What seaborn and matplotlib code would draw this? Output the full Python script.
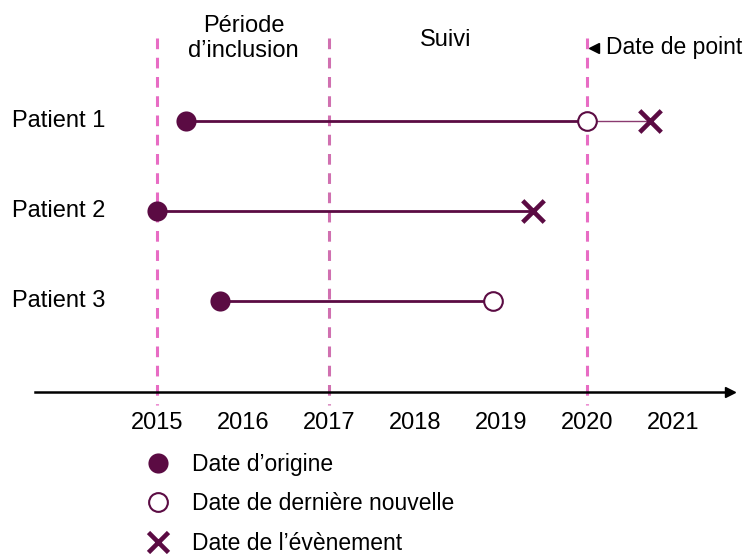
import matplotlib
matplotlib.use("Agg")
import matplotlib.pyplot as plt
from matplotlib.lines import Line2D
import seaborn as sns
import pandas as pd

# data
patients = ["Patient 1", "Patient 2", "Patient 3"]
origin_dates = [2015.33, 2015.0, 2015.73]
last_news_dates = [2020.0, None, 2018.9]
event_dates = [2020.73, 2019.37, None]
period_lines = [2015, 2017, 2020]
years = [2015, 2016, 2017, 2018, 2019, 2020, 2021]
legend_labels = ["Date d\u2019origine", "Date de derni\u00e8re nouvelle", "Date de l\u2019\u00e9v\u00e8nement"]

sns.set_theme(style="white")
plt.rcParams["font.family"] = ["Liberation Sans", "DejaVu Sans"]
plt.rcParams["text.color"] = "black"

dark = "#5b0b43"
pink = "#e86cc4"
pink_dark = "#d070b0"

W, H = 747, 554
fig = plt.figure(figsize=(W / 100, H / 100), dpi=100)
# axes: left edge at 35px, right at 730px, bottom (time axis) at 392px
ax = fig.add_axes([35 / W, (H - 392) / H, 695 / W, 392 / H])
ax.set_xlim(2013.576, 2021.657)
ax.set_ylim(4.013, -0.352)

ypos = list(range(1, len(patients) + 1))
df = pd.DataFrame({"patient": patients, "y": ypos, "origin": origin_dates,
                   "last": last_news_dates, "event": event_dates})

# period separators
for yr, c in zip(period_lines, [pink, pink_dark, pink]):
    ax.plot([yr, yr], [0.07, 4.16], color=c, lw=2.2, ls=(0, (3.5, 2.8)),
            clip_on=False, zorder=1)

# follow-up segments
for _, r in df.iterrows():
    end = r["last"] if pd.notna(r["last"]) else r["event"]
    ax.plot([r["origin"], end], [r["y"], r["y"]], color=dark, lw=2.0, zorder=2)
    if pd.notna(r["last"]) and pd.notna(r["event"]):
        ax.plot([r["last"], r["event"]], [r["y"], r["y"]], color="#8a3a70", lw=1.0, zorder=2)

sns.scatterplot(data=df, x="origin", y="y", ax=ax, s=210, color=dark,
                edgecolor=dark, linewidth=0, legend=False, zorder=3)
d_last = df.dropna(subset=["last"])
sns.scatterplot(data=d_last, x="last", y="y", ax=ax, s=180, facecolor="white",
                edgecolor=dark, linewidth=1.5, legend=False, zorder=3)
d_ev = df.dropna(subset=["event"])
ax.scatter(d_ev["event"], d_ev["y"], s=240, marker="x", color=dark, linewidths=3.3, zorder=3)

# patient labels
for name, y in zip(patients, ypos):
    ax.text(-23 / 695, y, name, transform=ax.get_yaxis_transform(), ha="left", va="center",
            fontsize=17)

# period titles
ax.text(2016, 0.08, "P\u00e9riode\nd\u2019inclusion", ha="center", va="center", fontsize=17,
        linespacing=1.2)
ax.text(2018.35, 0.09, "Suivi", ha="center", va="center", fontsize=17)
ax.plot([2020.08], [0.18], marker="<", color="black", markersize=7, ls="none", clip_on=False)
ax.text(2020.21, 0.18, "Date de point", ha="left", va="center", fontsize=16.5)

# time axis
for s in ["top", "right", "left"]:
    ax.spines[s].set_visible(False)
ax.spines["bottom"].set_linewidth(1.8)
ax.spines["bottom"].set_color("black")
ax.set_xticks(years)
ax.set_xticklabels([str(y) for y in years], fontsize=17)
ax.set_yticks([])
ax.tick_params(axis="x", direction="inout", length=13, width=1.5, pad=8,
               colors="black", labelcolor="black")
ax.plot([1], [0], marker=">", color="black", markersize=7, transform=ax.transAxes,
        clip_on=False)
ax.set_xlabel("")
ax.set_ylabel("")

# legend
handles = [
    Line2D([], [], ls="none", marker="o", markersize=14.5, color=dark, markeredgewidth=0),
    Line2D([], [], ls="none", marker="o", markersize=13.5, markerfacecolor="white",
           markeredgecolor=dark, markeredgewidth=1.5),
    Line2D([], [], ls="none", marker="x", markersize=14.5, color=dark, markeredgewidth=3.3),
]
fig.legend(handles, legend_labels, loc="upper left", bbox_to_anchor=(146.5 / W, 1 - 453 / H),
           frameon=False, fontsize=16.5, handlelength=1.0, handletextpad=0.99,
           labelspacing=0.71, borderpad=0, borderaxespad=0)

fig.savefig("out.png", dpi=100)
